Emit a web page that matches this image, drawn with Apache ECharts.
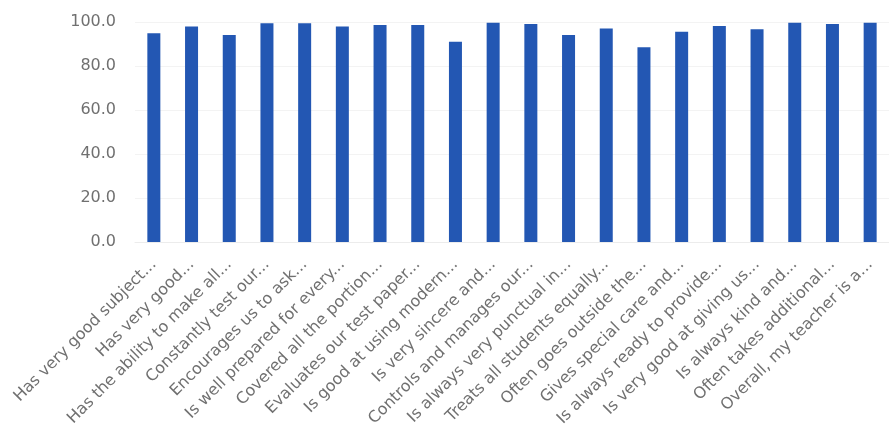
<!DOCTYPE html>
<html>
<head>
<meta charset="utf-8">
<script src="https://cdn.jsdelivr.net/npm/echarts@6/dist/echarts.min.js"></script>
<style>
html,body{margin:0;padding:0;background:#fff;}
#chart{width:889px;height:438px;}
</style>
</head>
<body>
<div id="chart"></div>
<script>
const categories = [
  "Has very good subject...",
  "Has very good...",
  "Has the ability to make all...",
  "Constantly test our...",
  "Encourages us to ask...",
  "Is well prepared for every...",
  "Covered all the portion...",
  "Evaluates our test paper...",
  "Is good at using modern...",
  "Is very sincere and...",
  "Controls and manages our...",
  "Is always very punctual in...",
  "Treats all students equally...",
  "Often goes outside the...",
  "Gives special care and...",
  "Is always ready to provide...",
  "Is very good at giving us...",
  "Is always kind and...",
  "Often takes additional...",
  "Overall, my teacher is a..."
];
const values = [94.9, 97.9, 94.1, 99.4, 99.4, 97.9, 98.6, 98.6, 91.0, 99.7, 99.1, 94.1, 97.1, 88.5, 95.6, 98.2, 96.7, 99.7, 99.1, 99.7];
const yTicks = { min: 0, max: 100, interval: 20 };

const chart = echarts.init(document.getElementById('chart'), null, { renderer: 'canvas' });
chart.setOption({
  animation: false,
  grid: { left: 135, width: 764, top: 22, bottom: 196, containLabel: false },
  xAxis: {
    type: 'category',
    data: categories,
    axisLine: { show: true, lineStyle: { color: '#ececec' } },
    axisTick: { show: false },
    axisLabel: {
      interval: 0,
      rotate: 45,
      margin: 20,
      color: '#707070',
      fontSize: 16,
      fontFamily: '"DejaVu Sans", sans-serif'
    }
  },
  yAxis: {
    type: 'value',
    min: yTicks.min,
    max: yTicks.max,
    interval: yTicks.interval,
    axisLine: { show: false },
    axisTick: { show: false },
    splitLine: { show: true, lineStyle: { color: '#f3f3f3' } },
    axisLabel: {
      margin: 19,
      color: '#707070',
      fontSize: 16,
      fontFamily: '"DejaVu Sans", sans-serif',
      formatter: v => v.toFixed(1)
    }
  },
  series: [{
    type: 'bar',
    data: values,
    barWidth: 13,
    itemStyle: { color: '#2357b3' }
  }]
});
</script>
</body>
</html>
